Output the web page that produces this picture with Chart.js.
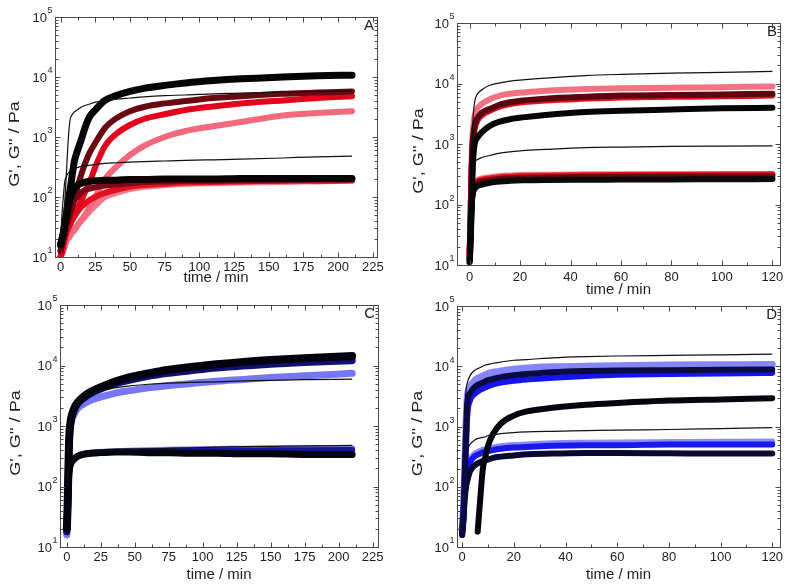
<!DOCTYPE html>
<html><head><meta charset="utf-8">
<script src="https://cdn.jsdelivr.net/npm/chart.js@4.4.1/dist/chart.umd.min.js"></script>
<style>
html,body{margin:0;padding:0;background:#fff;width:800px;height:588px;overflow:hidden}
.p{position:absolute}
</style></head><body>
<div class="p" style="left:0;top:0"><canvas id="cA" width="400" height="290"></canvas></div>
<div class="p" style="left:400px;top:0"><canvas id="cB" width="400" height="298"></canvas></div>
<div class="p" style="left:0;top:290px"><canvas id="cC" width="400" height="298"></canvas></div>
<div class="p" style="left:400px;top:290px"><canvas id="cD" width="400" height="298"></canvas></div>
<script>
// ---------- tick labels ----------
const yTickExponents = [1, 2, 3, 4, 5];
const xTicksA = [0, 25, 50, 75, 100, 125, 150, 175, 200, 225];
const xTicksB = [0, 20, 40, 60, 80, 100, 120];
const xTicksC = [0, 25, 50, 75, 100, 125, 150, 175, 200, 225];
const xTicksD = [0, 20, 40, 60, 80, 100, 120];
const yTitle = "G', G'' / Pa";
const xTitle = "time / min";

// ---------- Panel A ----------
const tA = [0,1,2,3,4,5,6,7,8,10,12,15,18,21,25,32,40,50,60,75,90,110,130,160,185,210];
const A_thin1   = [20,28,40,79,200,562,1259,1995,2291,2630,2818,3162,3388,3548,3802,3981,4266,4467,4677,4898,5012,5248,5370,5623,5754,5888];
const A_thin2   = [20,50,100,178,214,240,257,269,282,295,309,324,331,339,347,363,372,380,389,398,407,417,427,447,468,479];
const A_Gp_black   = [16,20,25,35,50,71,100,141,200,398,575,912,1514,2188,2818,4074,4898,5754,6457,7244,7943,8710,9333,10000,10470,10720];
const A_Gpp_black  = [16,20,25,33,45,60,79,95,112,141,158,170,178,182,186,191,191,195,195,200,200,200,204,204,204,204];
const A_Gp_darkred = [12.6,16,20,25,32,39,48,58,71,100,141,240,380,550,794,1413,2042,2692,3162,3631,3981,4467,4786,5248,5495,5754];
const A_Gpp_darkred= [12.6,16,20,25,32,38,46,55,63,89,100,120,132,138,145,155,162,170,178,182,186,186,191,191,195,195];
const A_Gp_red     = [10,12.6,16,20,25,28,32,35,40,50,63,89,126,178,316,708,1122,1585,1995,2399,2818,3236,3631,4074,4467,4786];
const A_Gpp_red    = [10,12.6,16,20,25,28,32,35,40,48,56,68,79,89,100,117,132,148,158,166,174,178,182,186,186,191];
const A_Gp_pink    = [10,11.2,12.6,15,18,20,21,23,25,28,33,42,52,69,100,200,316,501,708,1000,1259,1514,1778,2291,2512,2692];
const A_Gpp_pink   = [10,11.2,12.6,15,18,20,21,23,25,28,33,40,48,58,71,100,117,135,148,158,166,170,174,178,182,186];

// ---------- Panel B ----------
const tB = [0,0.25,0.5,0.75,1,1.25,1.5,2,3,5,8,12,16,21,30,46,60,80,100,120];
const B_thin1   = [null,null,null,null,1000,1995,3162,5012,6607,7943,9333,10230,10960,11480,12300,13490,14130,14790,15310,15850];
const B_thin2   = [null,null,null,null,251,355,427,501,550,603,646,708,741,776,813,871,891,912,923,933];
const B_Gp_black   = [11.2,15.8,28.8,79,200,398,631,1000,1259,1585,1995,2344,2570,2754,3020,3388,3548,3715,3890,3981];
const B_Gpp_black  = [11.2,20,40,79,126,150,166,182,200,214,229,240,246,251,255,257,258,260,261,263];
const B_Gp_darkred = [12.6,32,100,316,708,1122,1413,1995,2630,3311,3802,4467,4898,5248,5623,6026,6310,6457,6607,6761];
const B_Gpp_darkred= [12.6,28,55,90,130,150,170,200,224,240,251,263,270,275,280,285,288,290,292,295];
const B_Gp_red     = [15.8,35.5,112,316,631,1000,1259,1778,2399,3020,3548,4169,4571,4898,5248,5623,5888,6026,6166,6310];
const B_Gpp_red    = [15,30,60,95,135,158,182,214,240,257,269,282,288,295,300,305,308,310,312,315];
const B_Gp_pink    = [18,40,126,398,1000,1585,1995,2951,3802,4677,5495,6310,6761,7079,7586,8128,8318,8511,8710,8913];
const B_Gpp_pink   = [15.8,31.6,63,100,141,166,191,224,251,269,282,295,302,309,309,316,316,316,316,316];

// ---------- Panel C ----------
const tC = [0,0.5,1,1.5,2,3,4,6,8,12,18,25,35,45,60,75,90,110,130,150,175,210];
const C_thin1   = [null,100,316,708,1000,1413,1778,2239,2570,3020,3388,3802,4266,4571,4898,5129,5248,5370,5559,5689,5821,5957];
const C_thin2   = [null,100,178,200,224,251,269,302,324,347,363,380,398,407,417,427,437,447,457,462,468,479];
const C_Gp_black   = [20,40,126,398,794,1259,1585,2089,2455,3020,3715,4365,5370,6310,7413,8511,9333,10470,11480,12300,13180,14290];
const C_Gpp_black  = [20,40,100,158,200,240,263,295,316,339,355,363,372,372,363,363,355,355,347,347,339,339];
const C_Gp_navy    = [17.8,35.5,112,355,708,1175,1479,1950,2291,2818,3467,4074,4898,5623,6607,7413,8128,9120,9772,10470,11220,12020];
const C_Gpp_navy   = [17.8,35,95,150,195,235,260,292,316,339,355,363,372,380,385,389,389,393,394,396,398,400];
const C_Gp_light   = [15.8,31.6,100,316,631,1047,1318,1660,1950,2291,2692,3020,3467,3802,4266,4677,5012,5495,5888,6310,6761,7413];
const C_Gpp_light  = [16,32,90,145,190,235,262,295,320,345,360,372,380,389,398,405,410,417,420,424,427,430];

// ---------- Panel D ----------
const tD = [0,0.5,1,1.5,2,3,5,6,7,8,9,10,12,15,20,25,35,48,60,80,100,120];
const D_thin1   = [null,null,1585,3981,5248,6918,8710,9120,9550,10000,10470,10720,11220,11750,12590,12880,13800,14450,14790,15140,15490,15850];
const D_thin2   = [null,null,269,355,417,501,603,631,646,661,676,708,724,759,794,813,832,851,871,891,923,955];
const D_Gp_late    = [null,null,null,null,null,null,null,18,63,200,316,479,759,1122,1514,1778,2042,2291,2455,2692,2818,2951];
const D_Gp_navy    = [17.8,31.6,158,794,2512,3548,4571,4898,5129,5370,5623,5888,6166,6607,7079,7413,7943,8318,8511,8610,8710,8810];
const D_Gpp_navy   = [16,32,63,100,126,178,229,245,257,269,275,282,302,316,331,347,355,363,363,359,355,355];
const D_Gp_blue    = [15.8,28.2,126,501,1585,2692,3548,3802,4074,4266,4467,4677,5012,5370,5754,6026,6457,6918,7244,7413,7586,7762];
const D_Gpp_blue   = [20,40,79,126,178,251,324,339,355,372,380,389,407,427,447,457,479,490,490,501,501,501];
const D_Gp_light   = [20,40,200,1000,3162,4467,5888,6310,6607,6918,7244,7586,7943,8318,8913,9333,9772,10000,10230,10470,10590,10720];
const D_Gpp_light  = [22,44,87,139,196,276,356,373,391,409,418,428,448,470,492,503,527,539,545,551,556,562];

// ---------- helpers ----------
function pts(t, v){ const out=[]; t.forEach((x,i)=>{ if(v[i]!=null) out.push({x:x,y:v[i]}); }); return out; }
function thick(t, v, color, w, early){
  return { data: pts(t,v), borderColor: color, backgroundColor: color, borderWidth: w,
    cubicInterpolationMode:'monotone', borderCapStyle:'round',
    pointRadius: early ? (c => (c.raw && c.raw.x <= early) ? 2.6 : 0) : 0,
    pointBorderWidth: 0 };
}
function thin(t, v){
  return { data: pts(t,v), borderColor:'#111', borderWidth:1.2, cubicInterpolationMode:'monotone', pointRadius:0 };
}

const decor = {
  id:'decor',
  afterDraw(chart, args, o){
    const {ctx, chartArea:a, scales:{x,y}} = chart;
    ctx.save();
    ctx.strokeStyle = '#4a4a4a'; ctx.lineWidth = 1;
    const L = Math.round(a.left)+0.5, R = Math.round(a.right)+0.5, T = Math.round(a.top)+0.5, B = Math.round(a.bottom)+0.5;
    ctx.strokeRect(L, T, R-L, B-T);
    ctx.beginPath();
    const step = o.xTicks[1]-o.xTicks[0];
    for (let i=0;i<o.xTicks.length;i++){
      [0, step/2].forEach((off, j) => {
        const v = o.xTicks[i]+off; if (v > x.max) return;
        const px = Math.round(x.getPixelForValue(v))+0.5; const len = j===0?5:3;
        ctx.moveTo(px,B); ctx.lineTo(px,B-len); ctx.moveTo(px,T); ctx.lineTo(px,T+len);
      });
    }
    o.yExp.forEach(e => {
      for (let k=1;k<=9;k++){
        const v = k*Math.pow(10,e); if (v>y.max*1.0001) break;
        const py = Math.round(y.getPixelForValue(v))+0.5; const len = k===1?5:3;
        ctx.moveTo(L,py); ctx.lineTo(L+len,py); ctx.moveTo(R,py); ctx.lineTo(R-len,py);
      }
    });
    ctx.stroke();
    ctx.fillStyle = '#1e1e1e';
    o.yExp.forEach(e => {
      const py = y.getPixelForValue(Math.pow(10,e));
      ctx.font = '13px "Liberation Sans", Arial, sans-serif';
      ctx.textAlign='right'; ctx.textBaseline='middle';
      ctx.fillText('10', a.left-8, py+1);
      ctx.font = '9px "Liberation Sans", Arial, sans-serif';
      ctx.textAlign='left';
      ctx.fillText(String(e), a.left-7.5, py-6);
    });
    ctx.font = '13px "Liberation Sans", Arial, sans-serif';
    ctx.textAlign='center'; ctx.textBaseline='middle';
    o.xTicks.forEach(v => ctx.fillText(String(v), x.getPixelForValue(v), o.labelY));
    ctx.font = '15px "Liberation Sans", Arial, sans-serif';
    ctx.fillText(xTitle, (a.left+a.right)/2, o.titleY);
    ctx.save();
    ctx.translate(o.yTitleX, (a.top+a.bottom)/2+7);
    ctx.rotate(-Math.PI/2);
    ctx.scale(1.2,1);
    ctx.font = '15px "Liberation Sans", Arial, sans-serif';
    ctx.fillText(yTitle, 0, 0);
    ctx.restore();
    ctx.font = '15px "Liberation Sans", Arial, sans-serif';
    ctx.textAlign='right';
    ctx.fillText(o.letter, a.right-3, a.top+9);
    ctx.restore();
  }
};

function makeChart(id, datasets, xmin, xmax, pad, yW, xH, deco){
  return new Chart(document.getElementById(id), {
    type:'line',
    data:{ datasets },
    options:{
      responsive:false, animation:false, devicePixelRatio:1, events:[],
      layout:{ padding: pad },
      plugins:{ legend:{display:false}, tooltip:{enabled:false}, decor: deco },
      scales:{
        x:{ type:'linear', min:xmin, max:xmax, grid:{display:false}, border:{display:false},
            ticks:{display:false}, afterFit: s => { s.height = xH; } },
        y:{ type:'logarithmic', min:10, max:100000, grid:{display:false}, border:{display:false},
            ticks:{display:false}, afterFit: s => { s.width = yW; } }
      }
    },
    plugins:[decor]
  });
}

makeChart('cA', [
  thin(tA, A_thin1), thin(tA, A_thin2),
  thick(tA, A_Gp_black, '#050505', 7), thick(tA, A_Gpp_black, '#0a0202', 7),
  thick(tA, A_Gp_darkred, '#6a0812', 6), thick(tA, A_Gpp_darkred, '#7a0a16', 6),
  thick(tA, A_Gp_red, '#e5001c', 6), thick(tA, A_Gpp_red, '#e3101f', 6),
  thick(tA, A_Gp_pink, '#f26a7c', 6), thick(tA, A_Gpp_pink, '#f27a8a', 6)
], -4, 228, {left:0,right:23,top:17,bottom:0}, 55, 33,
 {letter:'A', xTicks:xTicksA, yExp:yTickExponents, labelY:267, titleY:278, yTitleX:15});

makeChart('cB', [
  thin(tB, B_thin1), thin(tB, B_thin2),
  thick(tB, B_Gp_black, '#050505', 6, 1.5), thick(tB, B_Gpp_black, '#0a0a0a', 6, 1.5),
  thick(tB, B_Gp_darkred, '#5a0510', 6, 1.5), thick(tB, B_Gpp_darkred, '#6a0812', 6, 1.5),
  thick(tB, B_Gp_red, '#e0101e', 6, 1.5), thick(tB, B_Gpp_red, '#e5101f', 6, 1.5),
  thick(tB, B_Gp_pink, '#f27282', 6, 1.5), thick(tB, B_Gpp_pink, '#f28090', 6, 1.5)
], -5, 123, {left:0,right:20,top:23,bottom:0}, 57, 33,
 {letter:'B', xTicks:xTicksB, yExp:yTickExponents, labelY:277, titleY:290, yTitleX:19});

makeChart('cC', [
  thin(tC, C_thin1), thin(tC, C_thin2),
  thick(tC, C_Gp_black, '#03030f', 8), thick(tC, C_Gpp_black, '#05050f', 7),
  thick(tC, C_Gp_navy, '#101070', 7), thick(tC, C_Gpp_navy, '#1515a0', 6),
  thick(tC, C_Gp_light, '#7676f6', 7), thick(tC, C_Gpp_light, '#7a7af6', 6)
], -5, 229, {left:0,right:22,top:15,bottom:0}, 60, 41,
 {letter:'C', xTicks:xTicksC, yExp:yTickExponents, labelY:267, titleY:285, yTitleX:15.5});

makeChart('cD', [
  thin(tD, D_thin1), thin(tD, D_thin2),
  thick(tD, D_Gp_late, '#050510', 6, 8),
  thick(tD, D_Gp_navy, '#0a0a45', 6, 1.5), thick(tD, D_Gpp_navy, '#080830', 6, 1.5),
  thick(tD, D_Gp_blue, '#1414ee', 6, 1.5), thick(tD, D_Gpp_blue, '#1818ee', 6, 1.5),
  thick(tD, D_Gp_light, '#8686fa', 7, 1.5), thick(tD, D_Gpp_light, '#8a8afa', 6, 1.5)
], -2, 123, {left:0,right:20,top:16,bottom:0}, 57, 41,
 {letter:'D', xTicks:xTicksD, yExp:yTickExponents, labelY:267, titleY:285, yTitleX:17.5});
</script>
</body></html>
